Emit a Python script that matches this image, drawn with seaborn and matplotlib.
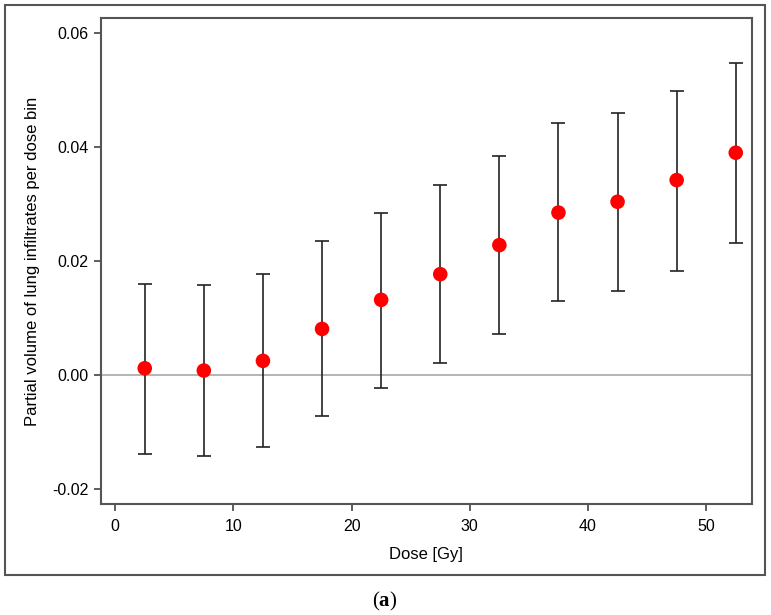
import numpy as np
import pandas as pd
import seaborn as sns
import matplotlib.pyplot as plt
from matplotlib.patches import Rectangle

# data
dose = [2.5, 7.5, 12.5, 17.5, 22.5, 27.5, 32.5, 37.5, 42.5, 47.5, 52.5]
volume = [0.0012, 0.0008, 0.0025, 0.0081, 0.0132, 0.0177, 0.0228, 0.0285, 0.0304, 0.0342, 0.0390]
upper = [0.0160, 0.0158, 0.0177, 0.0236, 0.0285, 0.0333, 0.0385, 0.0442, 0.0460, 0.0498, 0.0547]
lower = [-0.0138, -0.0142, -0.0126, -0.0071, -0.0022, 0.0022, 0.0072, 0.0130, 0.0148, 0.0183, 0.0232]

x_ticks = [0, 10, 20, 30, 40, 50]
y_ticks = [-0.02, 0.00, 0.02, 0.04, 0.06]

df = pd.DataFrame({"dose": dose, "volume": volume, "upper": upper, "lower": lower})

sns.set_style("ticks", {"text.color": "black", "axes.labelcolor": "black",
                        "xtick.color": "#333333", "ytick.color": "#333333"})
plt.rcParams['font.family'] = ['Liberation Sans', 'DejaVu Sans']
plt.rcParams['mathtext.fontset'] = 'custom'
plt.rcParams['mathtext.bf'] = 'Liberation Serif:bold'
plt.rcParams['mathtext.rm'] = 'Liberation Serif'

fig = plt.figure(figsize=(7.71, 6.15), dpi=100)
ax = fig.add_axes([0.131, 0.1805, 0.844, 0.79])

# outer frame around the panel
fig.patches.append(Rectangle((5 / 771, 1 - 575 / 615), 760 / 771, 570 / 615,
                             transform=fig.transFigure, fill=False,
                             edgecolor="#555555", linewidth=1.5))

ax.axhline(0, color="#a0a0a0", linewidth=1.1, zorder=1)

yerr = np.array([df["volume"] - df["lower"], df["upper"] - df["volume"]])
ax.errorbar(df["dose"], df["volume"], yerr=yerr, fmt="none",
            ecolor="#222222", elinewidth=1.2, capsize=4.7, capthick=1.2, zorder=2)
sns.scatterplot(data=df, x="dose", y="volume", color="#ff0000", s=110,
                edgecolor="none", linewidth=0, zorder=3, ax=ax)

ax.set_xlim(-1.2, 53.85)
ax.set_ylim(-0.0226, 0.0626)
ax.set_xticks(x_ticks)
ax.set_yticks(y_ticks)
ax.set_yticklabels([f"{v:.2f}" for v in y_ticks])
ax.tick_params(axis="both", direction="out", length=5, width=1.1,
               color="#333333", labelcolor="black", labelsize=11.5, pad=4)
ax.tick_params(axis="x", pad=6)

for side in ["left", "right", "top", "bottom"]:
    ax.spines[side].set_visible(True)
    ax.spines[side].set_color("#555555")
    ax.spines[side].set_linewidth(1.5)

ax.set_xlabel("Dose [Gy]", fontsize=12, labelpad=9)
ax.set_ylabel("Partial volume of lung infiltrates per dose bin", fontsize=12, labelpad=9)

fig.text(385 / 771, 1 - 601 / 615, r"($\mathbf{a}$)", ha="center", va="center",
         fontsize=15, family="Liberation Serif", color="black")

fig.savefig("out.png", dpi=100)
